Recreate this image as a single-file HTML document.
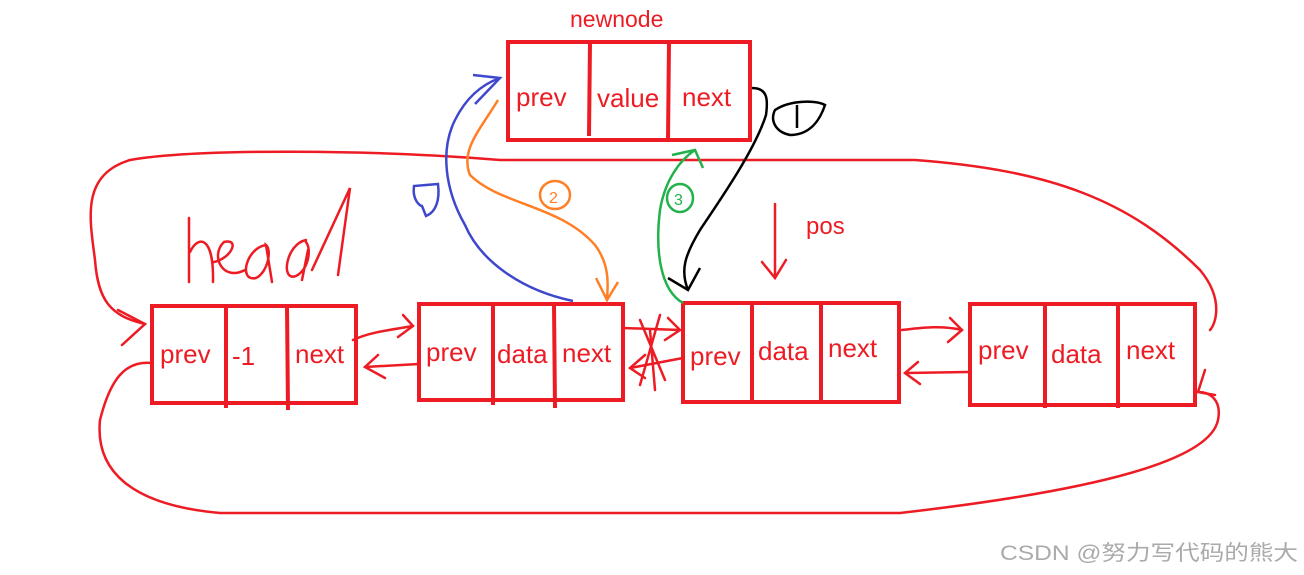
<!DOCTYPE html>
<html><head><meta charset="utf-8"><style>
html,body{margin:0;padding:0;background:#fff;}
svg{display:block}
text{font-family:"Liberation Sans","Noto Sans CJK SC",sans-serif;fill:#ed1c24;font-size:26px}
</style></head><body>
<svg width="1304" height="575" viewBox="0 0 1304 575" xmlns="http://www.w3.org/2000/svg">
<g fill="none" stroke="#ed1c24" stroke-width="4">
<rect x="508" y="42" width="242" height="98"/><line x1="590" y1="42" x2="589" y2="136"/><line x1="669" y1="42" x2="668" y2="140"/>
<rect x="152" y="306" width="204" height="97"/><line x1="226" y1="306" x2="226" y2="408"/><line x1="287" y1="306" x2="288" y2="410"/>
<rect x="419" y="304" width="204" height="96"/><line x1="493" y1="304" x2="493" y2="405"/><line x1="554" y1="304" x2="555" y2="408"/>
<rect x="683" y="303" width="216" height="99"/><line x1="752" y1="303" x2="752" y2="402"/><line x1="821" y1="303" x2="821" y2="402"/>
<rect x="970" y="304" width="225" height="101"/><line x1="1045" y1="304" x2="1045" y2="408"/><line x1="1118" y1="304" x2="1118" y2="408"/>
</g>
<g fill="none" stroke="#ed1c24" stroke-width="2.5" stroke-linecap="round">
<path d="M145,324 C110,316 98,300 95,260 C90,220 80,175 130,160 C200,148 380,150 500,160 L915,160 C1050,170 1130,200 1200,270 C1225,300 1215,325 1210,330"/>
<path d="M118,310 L145,324 L122,345"/>
<path d="M152,363 C125,360 110,380 100,420 C95,470 130,505 220,513 L900,513 C1100,490 1210,460 1218,420 C1222,400 1210,392 1198,392"/>
<path d="M1205,370 L1198,392 L1215,395"/>
<path d="M353,340 C370,332 390,330 413,326"/><path d="M403,315 L413,326 L398,337"/>
<path d="M419,364 L365,367"/><path d="M378,355 L365,367 L385,378"/>
<path d="M623,328 L680,330"/><path d="M668,318 L680,330 L665,340"/>
<path d="M683,358 L630,368"/><path d="M645,355 L630,368 L645,378"/>
<path d="M640,320 L665,380 M660,315 L640,385 M650,330 L655,390"/>
<path d="M775,204 L775,278"/><path d="M762,262 L775,278 L786,260"/>
<path d="M902,330 C920,328 940,325 962,330"/><path d="M950,318 L962,330 L948,342"/>
<path d="M968,372 L905,373"/><path d="M918,362 L905,373 L920,384"/>
<path d="M189,218 L189,282 M190,252 C198,235 214,235 213,282 M214,262 C232,258 240,238 224,242 C210,255 222,282 245,270 M266,245 C246,248 238,282 256,278 C268,272 272,250 266,245 L272,282 M306,240 C286,244 280,282 296,276 C308,270 312,250 306,242 M308,250 L302,280 M312,270 C326,240 340,210 350,188 L338,275"/>
</g>
<path d="M573,301 C520,290 480,260 465,225 C445,190 440,150 455,120 C465,100 480,85 500,78" fill="none" stroke="#3f48cc" stroke-width="2.5"/>
<path d="M473,75 L500,78 L475,104" fill="none" stroke="#3f48cc" stroke-width="2.5"/>
<path d="M414,186 C412,200 420,206 422,206 L426,216 C436,212 440,200 438,184 Z" fill="none" stroke="#3f48cc" stroke-width="2.5"/>
<path d="M498,100 C480,130 460,150 470,175 C500,205 560,205 595,245 C610,265 608,285 607,300" fill="none" stroke="#ff7f27" stroke-width="2.5"/>
<path d="M596,278 L607,300 L618,282" fill="none" stroke="#ff7f27" stroke-width="2.5"/>
<ellipse cx="555" cy="195" rx="15" ry="14" fill="none" stroke="#ff7f27" stroke-width="2.5"/><text x="549" y="203" style="font-size:16px;fill:#ff7f27">2</text>
<path d="M683,303 C660,290 655,250 660,210 C665,180 680,160 695,150" fill="none" stroke="#22b14c" stroke-width="2.5"/>
<path d="M672,155 L695,150 L703,168" fill="none" stroke="#22b14c" stroke-width="2.5"/>
<ellipse cx="680" cy="198" rx="13" ry="14" fill="none" stroke="#22b14c" stroke-width="2.5"/><text x="674" y="205" style="font-size:16px;fill:#22b14c">3</text>
<path d="M752,88 C768,88 768,100 766,115 C755,150 720,200 700,230 C685,255 680,270 688,290" fill="none" stroke="#000" stroke-width="2.5"/>
<path d="M668,278 L688,290 L700,268" fill="none" stroke="#000" stroke-width="2.5"/>
<path d="M775,110 C790,100 815,100 825,105 C820,120 810,135 790,135 C775,132 770,120 775,110 Z M797,105 L797,128" fill="none" stroke="#000" stroke-width="2.5"/>
<text x="570" y="27" style="font-size:23px">newnode</text>
<text x="516" y="106">prev</text><text x="597" y="107">value</text><text x="682" y="106">next</text>
<text x="160" y="363">prev</text><text x="232" y="365">-1</text><text x="295" y="363">next</text>
<text x="426" y="361">prev</text><text x="497" y="363">data</text><text x="562" y="362">next</text>
<text x="690" y="365">prev</text><text x="758" y="360">data</text><text x="828" y="357">next</text>
<text x="978" y="359">prev</text><text x="1051" y="363">data</text><text x="1126" y="359">next</text>
<text x="806" y="234" style="font-size:24px">pos</text>
<text x="1000" y="560" textLength="298" lengthAdjust="spacingAndGlyphs" style="font-size:21px;fill:#aaa">CSDN @努力写代码的熊大</text>
</svg>
</body></html>
